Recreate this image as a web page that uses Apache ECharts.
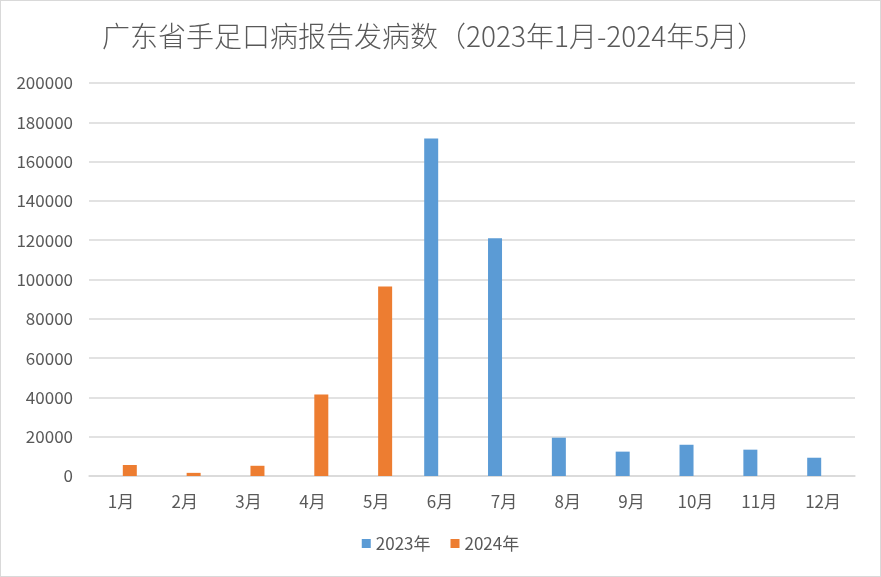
<!DOCTYPE html>
<html>
<head>
<meta charset="utf-8">
<script src="https://cdn.jsdelivr.net/npm/echarts@6/dist/echarts.min.js"></script>
<style>
  html, body { margin: 0; padding: 0; background: #fff; }
  #main { width: 881px; height: 577px; box-sizing: border-box; border: 1px solid #d9d9d9; }
</style>
</head>
<body>
<div id="main"></div>
<script>
// 月份
const months = ['1月', '2月', '3月', '4月', '5月', '6月', '7月', '8月', '9月', '10月', '11月', '12月'];
// 2023年各月发病数（1-5月无数据）
const cases2023 = [null, null, null, null, null, 171800, 121000, 19500, 12400, 15900, 13400, 9300];
// 2024年各月发病数（截至5月）
const cases2024 = [5600, 1600, 5200, 41500, 96400, null, null, null, null, null, null, null];

const myChart = echarts.init(document.getElementById('main'));

const labelColor = '#595959';
const fontFamily = '"Noto Sans CJK SC", "Noto Sans", sans-serif';

const option = {
	backgroundColor: '#fff',
	title: {
		text: '广东省手足口病报告发病数（2023年1月-2024年5月）',
		left: 96,
		top: 16,
		textStyle: {
			fontFamily: fontFamily,
			fontWeight: 300,
			fontSize: 28,
			color: labelColor
		}
	},
	legend: {
		data: ['2023年', '2024年'],
		bottom: 19,
		left: 'center',
		icon: 'rect',
		itemWidth: 9,
		itemHeight: 9,
		itemGap: 20,
		itemStyle: { borderWidth: 0 },
		textStyle: {
			fontFamily: fontFamily,
			fontSize: 17,
			color: labelColor
		}
	},
	grid: {
		left: 88,
		right: 25,
		top: 82,
		bottom: 100
	},
	xAxis: {
		type: 'category',
		data: months,
		axisLine: { lineStyle: { color: '#d9d9d9', width: 1.5 } },
		axisTick: { show: false },
		axisLabel: {
			margin: 17,
			fontFamily: fontFamily,
			fontSize: 17,
			color: labelColor
		}
	},
	yAxis: {
		type: 'value',
		min: 0,
		max: 200000,
		interval: 20000,
		axisLine: { show: false },
		axisTick: { show: false },
		splitLine: { lineStyle: { color: '#d9d9d9', width: 1.5 } },
		axisLabel: {
			margin: 16,
			fontFamily: fontFamily,
			fontSize: 17,
			color: labelColor,
			formatter: function (v) { return String(v); }
		}
	},
	series: [
		{
			name: '2023年',
			type: 'bar',
			data: cases2023,
			barWidth: 14,
			barGap: '27%',
			itemStyle: { color: '#5b9bd5' }
		},
		{
			name: '2024年',
			type: 'bar',
			data: cases2024,
			barWidth: 14,
			itemStyle: { color: '#ed7d31' }
		}
	]
};

myChart.setOption(option);
</script>
</body>
</html>
